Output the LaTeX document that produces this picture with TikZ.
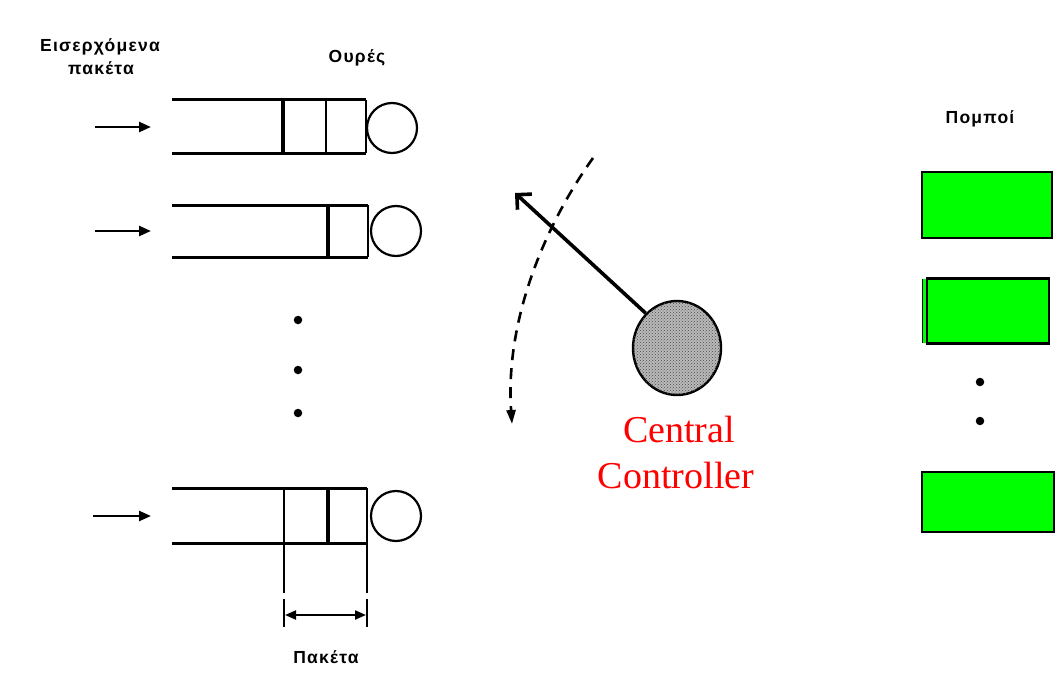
\documentclass[tikz,border=0pt]{standalone}
\usepackage{fontspec}
\setmainfont{Liberation Serif}
\newfontfamily\labelfont[LetterSpace=7]{Liberation Sans}
\usetikzlibrary{arrows.meta,patterns,shapes.geometric}
\definecolor{txgreen}{RGB}{0,255,0}

\begin{document}
\begin{tikzpicture}[x=1pt,y=-1pt,
  qline/.style={line width=3pt},
  qdiv/.style={line width=3.6pt},
  qthin/.style={line width=2.4pt},
  server/.style={circle,draw,line width=2.2pt,minimum size=50pt,inner sep=0pt},
  inarrow/.style={line width=2.4pt,-{Triangle[length=12pt,width=10pt]}},
  txbox/.style={draw,line width=2.4pt,fill=txgreen,inner sep=0pt},
  glabel/.style={font=\labelfont\bfseries\fontsize{17.5}{19}\selectfont,anchor=base,inner sep=0pt},
  ctrllabel/.style={font=\fontsize{38}{40}\selectfont,text=red,anchor=base,inner sep=0pt},
  dotmark/.style={circle,fill=black,inner sep=0pt,minimum size=8.5pt},
]
\useasboundingbox (0,0) rectangle (1064,698);
\fill[white] (0,0) rectangle (1064,698);

% headings
\node[glabel] (hin1) at (100,52) {Εισερχόμενα};
\node[glabel] (hin2) at (101,75) {πακέτα};
\node[glabel] (hq) at (357,63) {Ουρές};
\node[glabel] (htx) at (980,123) {Πομποί};

% queue 1
\draw[qline] (172,100) -- (366,100);
\draw[qline] (172,153) -- (366,153);
\draw[qdiv] (283,100) -- (283,153);
\draw[qthin] (326,100) -- (326,153);
\draw[qthin] (366,100) -- (366,153);
\node[server] (s1) at (392,128) {};
\coordinate (in1a) at (95,127);
\coordinate (in1b) at (151,127);
\draw[inarrow] (in1a) -- (in1b);

% queue 2
\draw[qline] (172,205) -- (368,205);
\draw[qline] (172,257) -- (368,257);
\draw[qdiv] (328,205) -- (328,257);
\draw[qthin] (368,205) -- (368,257);
\node[server] (s2) at (396,231) {};
\coordinate (in2a) at (95,231);
\coordinate (in2b) at (151,231);
\draw[inarrow] (in2a) -- (in2b);

% elided queues
\node[dotmark] (d1) at (298,320) {};
\node[dotmark] (d2) at (298,370) {};
\node[dotmark] (d3) at (298,413) {};

% queue n
\draw[qline] (172,488) -- (367,488);
\draw[qline] (172,543) -- (367,543);
\draw[line width=2pt] (284,488) -- (284,585);
\draw[qdiv] (328,488) -- (328,543);
\draw[line width=2.2pt] (367,488) -- (367,585);
\node[server] (s3) at (396,516) {};
\coordinate (in3a) at (93,516);
\coordinate (in3b) at (151,516);
\draw[inarrow] (in3a) -- (in3b);

% packet size dimension
\draw[line width=2pt,dashed,dash pattern=on 8pt off 6pt] (284,585) -- (284,610);
\draw[line width=2pt,dashed,dash pattern=on 8pt off 6pt] (367,585) -- (367,610);
\coordinate (dimL) at (285,615);
\coordinate (dimR) at (366,615);
\draw[line width=2.2pt] (284,605) -- (284,627);
\draw[line width=2.2pt] (367,605) -- (367,627);
\draw[line width=2.2pt,{Triangle[length=11pt,width=9pt]}-{Triangle[length=11pt,width=9pt]}] (dimL) -- (dimR);
\node[glabel] (hpk) at (326,663) {Πακέτα};

% central controller and its scanning pointer
\node[ellipse,draw,line width=2.4pt,minimum width=88pt,minimum height=94pt,
      fill=gray!55,postaction={pattern=crosshatch dots,pattern color=black!70}] (ctrl) at (677,348) {};
\coordinate (ptr) at (515,193);
\draw[line width=3.6pt,-{Straight Barb[angle=90:15pt]}] (ctrl.132) -- (ptr);
\coordinate (arcA) at (593,158);
\coordinate (arcB) at (512,424);
\draw[line width=2.6pt,dashed,dash pattern=on 11pt off 8pt,-{Triangle[length=14pt,width=9pt]}]
  (arcA) .. controls (545,225) and (505,320) .. (arcB);
\node[ctrllabel] (cl1) at (679,442) {Central};
\node[ctrllabel] (cl2) at (676,488) {Controller};

% transmitters
\node[txbox,minimum width=130pt,minimum height=66pt] (t1) at (987,205) {};
\fill[txgreen] (922,279) rectangle (927,343);
\draw[line width=1.2pt] (922.6,279) -- (922.6,343);
\node[txbox,minimum width=122pt,minimum height=65pt] (t2) at (988,311) {};
\node[dotmark] (td1) at (980,382) {};
\node[dotmark] (td2) at (980,421) {};
\node[txbox,minimum width=132pt,minimum height=60pt] (t3) at (988,502) {};
\end{tikzpicture}
\end{document}
